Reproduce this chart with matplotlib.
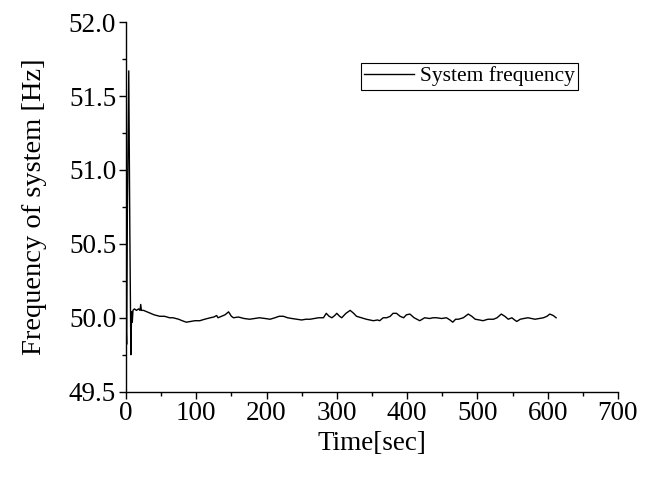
import numpy as np
import matplotlib
matplotlib.use('Agg')
import matplotlib.pyplot as plt
from matplotlib.ticker import MultipleLocator

# time [sec] and system frequency [Hz]
time_sec = [0, 1, 2, 4, 5.5, 7, 8, 9, 10, 12, 15, 18, 20, 21, 22, 25, 30, 35, 40,
            48, 55, 62, 67, 75, 80, 86, 92, 98, 105, 112, 120, 125, 129, 131, 136,
            141, 146, 150, 153, 160, 168, 176, 183, 190, 198, 205, 212, 218, 224,
            230, 236, 243, 250, 256, 262, 268, 274, 281, 285, 289, 293, 297, 300,
            304, 307, 313, 319, 324, 328, 335, 342, 347, 352, 358, 361, 366, 371,
            376, 380, 385, 390, 395, 399, 404, 410, 414, 418, 425, 432, 437, 442,
            449, 456, 461, 465, 469, 473, 480, 487, 492, 497, 503, 508, 515, 523,
            528, 534, 539, 544, 549, 553, 556, 561, 566, 572, 577, 582, 588, 594,
            599, 603, 608, 612]
freq_hz = [50.0, 49.82, 50.7, 51.67, 50.6, 49.75, 50.04, 49.97, 50.05, 50.06, 50.05,
           50.06, 50.05, 50.09, 50.05, 50.05, 50.04, 50.03, 50.02, 50.01, 50.01,
           50.0, 50.0, 49.99, 49.98, 49.97, 49.975, 49.98, 49.98, 49.99, 50.0,
           50.005, 50.015, 50.0, 50.01, 50.02, 50.04, 50.01, 50.0, 50.005, 49.995,
           49.99, 49.995, 50.0, 49.995, 49.99, 50.0, 50.01, 50.01, 50.0, 49.995,
           49.99, 49.985, 49.99, 49.99, 49.995, 50.0, 50.0, 50.03, 50.01, 50.0,
           50.015, 50.03, 50.01, 50.0, 50.03, 50.05, 50.03, 50.01, 50.0, 49.99,
           49.985, 49.98, 49.985, 49.98, 50.0, 50.0, 50.01, 50.03, 50.03, 50.01,
           50.0, 50.02, 50.025, 50.0, 49.99, 49.98, 50.0, 49.995, 50.0, 50.0,
           49.995, 50.0, 49.985, 49.97, 49.99, 49.99, 50.0, 50.025, 50.01, 49.99,
           49.985, 49.98, 49.99, 49.99, 50.0, 50.025, 50.01, 49.99, 50.0, 49.985,
           49.975, 49.99, 49.995, 50.0, 49.995, 49.99, 49.995, 50.0, 50.01,
           50.025, 50.015, 50.0]

plt.rcParams['font.family'] = ['Liberation Serif', 'DejaVu Serif']

fig = plt.figure(figsize=(6.56, 4.8), dpi=100)
ax = fig.add_axes([0.192, 0.184, 0.75, 0.77])

ax.plot(time_sec, freq_hz, color='black', lw=1.0, label='System frequency')

ax.set_xlim(0, 700)
ax.set_ylim(49.5, 52.0)
ax.xaxis.set_major_locator(MultipleLocator(100))
ax.xaxis.set_minor_locator(MultipleLocator(50))
ax.yaxis.set_major_locator(MultipleLocator(0.5))
ax.yaxis.set_minor_locator(MultipleLocator(0.25))
ax.yaxis.set_major_formatter(matplotlib.ticker.FormatStrFormatter('%.1f'))

for side in ['top', 'right']:
    ax.spines[side].set_visible(False)
for side in ['left', 'bottom']:
    ax.spines[side].set_linewidth(1.0)

ax.tick_params(which='major', direction='out', length=5, width=1.0,
               labelsize=19.5, pad=2)
ax.tick_params(which='minor', direction='out', length=3, width=1.0)

ax.set_xlabel('Time[sec]', fontsize=19.5, labelpad=3)
ax.set_ylabel('Frequency of system [Hz]', fontsize=20.5, labelpad=16)

leg = ax.legend(loc='upper right', bbox_to_anchor=(0.919, 0.889), fontsize=15.5,
                frameon=True, fancybox=False, framealpha=1, edgecolor='black',
                handlelength=2.3, handletextpad=0.3, borderpad=0.15,
                borderaxespad=0)
leg.get_frame().set_linewidth(0.8)

fig.savefig('out.png', dpi=100)
